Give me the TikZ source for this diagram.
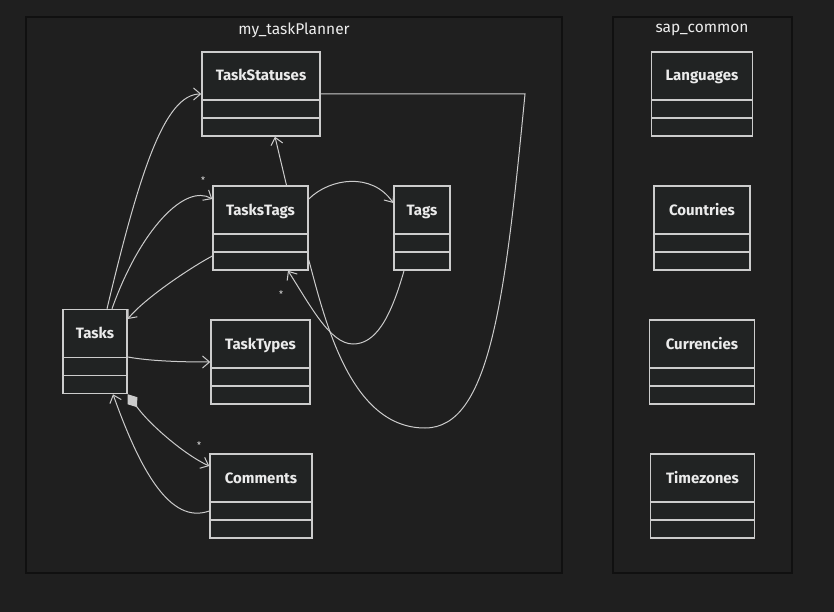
\documentclass[tikz,border=0pt]{standalone}
\usepackage{fontspec}
\setmainfont{Fira Sans}
\usetikzlibrary{arrows.meta}
\definecolor{canvas}{HTML}{1F1F1F}
\definecolor{clusterline}{HTML}{101010}
\definecolor{boxfill}{HTML}{212323}
\definecolor{boxline}{HTML}{CCCCCC}
\definecolor{ink}{HTML}{EBEBEB}
\tikzset{
      cluster/.style={draw=clusterline, fill=canvas, line width=1.5},
      title/.style={text=ink!90, font=\fontsize{15.5}{17}\selectfont},
      umlclass/.style={draw=boxline, fill=boxfill, line width=1.5, text=ink,
            font=\bfseries\fontsize{15}{17}\selectfont, inner sep=0pt,
            minimum width=#1, text height=29pt, text depth=55pt,
            path picture={\draw[boxline, line width=1.5]
                  ([yshift=-48pt]path picture bounding box.north west) -- ([yshift=-48pt]path picture bounding box.north east)
                  ([yshift=-66pt]path picture bounding box.north west) -- ([yshift=-66pt]path picture bounding box.north east);}},
      assoc/.style={draw=boxline, line width=1, -{Straight Barb[length=7pt, width=12pt]}},
      link/.style={draw=boxline, line width=1},
      compose/.style={draw=boxline, line width=1,
            {Diamond[fill=boxline, length=16pt, width=12pt]}-{Straight Barb[length=7pt, width=12pt]}},
      mult/.style={text=ink, font=\fontsize{9}{10}\selectfont, inner sep=0pt},
}
\begin{document}
\begin{tikzpicture}[x=1pt, y=-1pt]
        \path[use as bounding box, fill=canvas] (0,0) rectangle (834,612);

        % Draw the packages
        \draw[cluster] (26,17) rectangle (562,573);
        \draw[cluster] (613,17) rectangle (792,573);
        \node[title] (plannertitle) at (294,30) {my\_taskPlanner};
        \node[title] (commontitle) at (702,30) {sap\_common};

        % Draw the classes
        \node[umlclass=118pt] (statuses) at (261,94) {TaskStatuses};
        \node[umlclass=95pt] (taskstags) at (260.5,228) {TasksTags};
        \node[umlclass=56pt] (tags) at (422,228) {Tags};
        \node[umlclass=64pt] (tasks) at (95,351.5) {Tasks};
        \node[umlclass=99pt] (tasktypes) at (260.5,362) {TaskTypes};
        \node[umlclass=102pt] (comments) at (261,496) {Comments};

        \node[umlclass=101pt] (languages) at (702,94) {Languages};
        \node[umlclass=96pt] (countries) at (702,228) {Countries};
        \node[umlclass=105pt] (currencies) at (702,362) {Currencies};
        \node[umlclass=104pt] (timezones) at (702.5,496) {Timezones};

        % Draw the relations
        \draw[assoc] ([xshift=12pt]tasks.north) .. controls (140,170) and (165,94) .. (statuses.west);
        \draw[assoc] ([xshift=17pt]tasks.north) .. controls (140,230) and (185,183) .. ([yshift=29pt]taskstags.west);
        \draw[assoc] ([yshift=-28pt]taskstags.west) .. controls (190,268) and (145,298) .. ([yshift=32.5pt]tasks.east);
        \draw[assoc] ([xshift=26pt]taskstags.north) -- ([xshift=14pt]statuses.south);
        \draw[assoc] ([yshift=29pt]taskstags.east) .. controls (330,178) and (372,172) .. ([yshift=25pt]tags.west);
        \draw[assoc] ([xshift=-18pt]tags.south) .. controls (390,320) and (375,344) .. (353,344)
              .. controls (330,344) and (310,305) .. ([xshift=27.5pt]taskstags.south);
        \draw[link] (statuses.east) -- (525,94) .. controls (505,300) and (490,428) .. (425,428)
              .. controls (350,428) and (325,320) .. ([yshift=-32pt]taskstags.east);
        \draw[assoc] ([yshift=-5.5pt]tasks.east) .. controls (150,361) and (180,362) .. (tasktypes.west);
        \draw[compose] (tasks.south east) .. controls (150,425) and (185,455) .. ([yshift=30pt]comments.west);
        \draw[assoc] ([yshift=-15pt]comments.west) .. controls (170,525) and (140,470) .. ([xshift=18pt]tasks.south);

        % Draw the multiplicities
        \node[mult] (multtags) at (203,180) {*};
        \node[mult] (multcomments) at (199,445) {*};
        \node[mult] (multtasktags) at (281,294) {*};

\end{tikzpicture}
\end{document}
